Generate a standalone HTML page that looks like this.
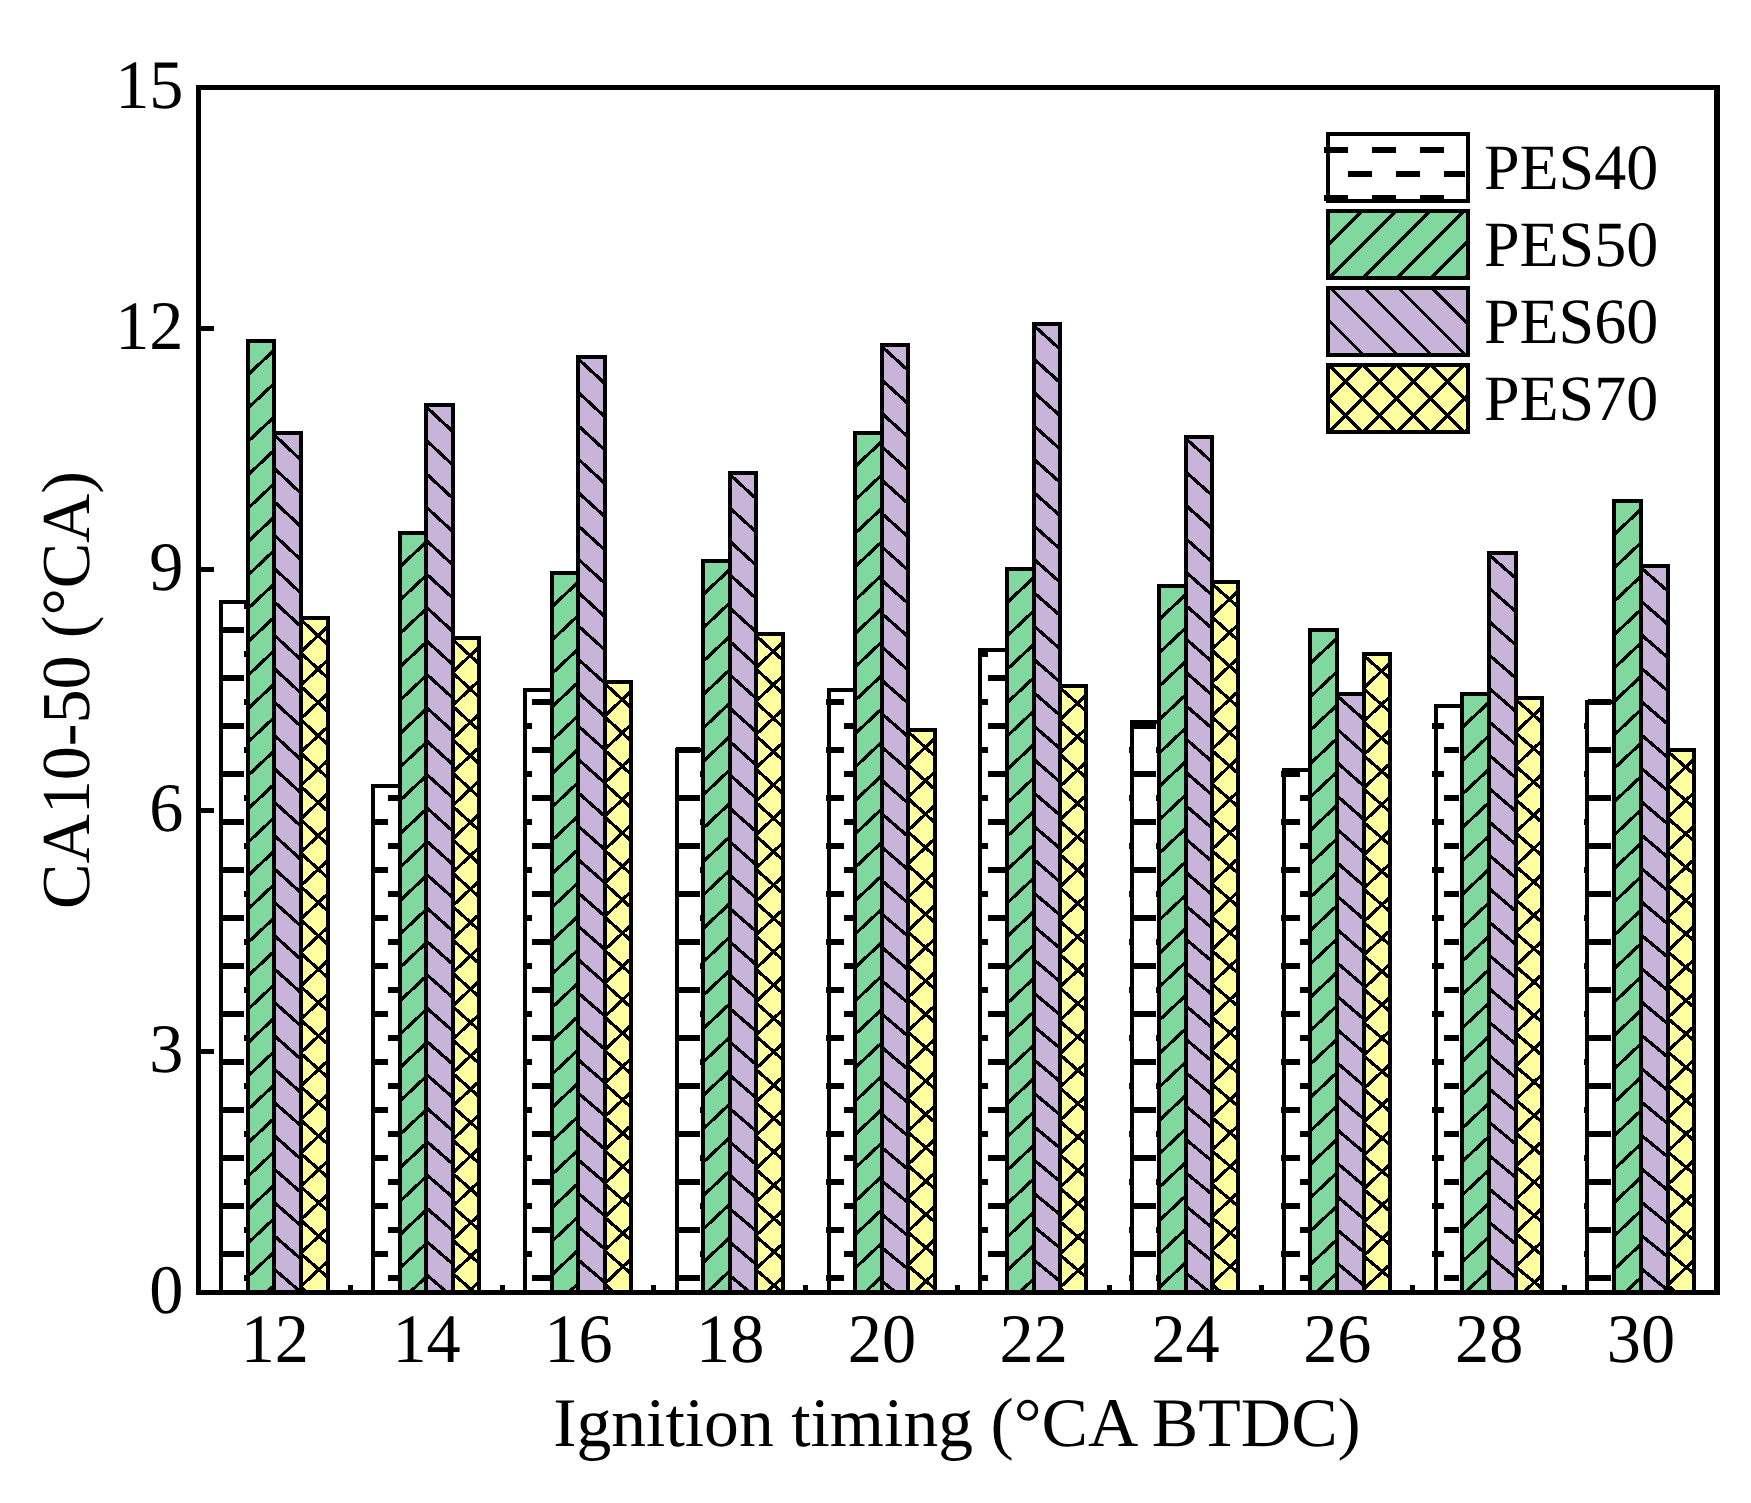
<!DOCTYPE html>
<html lang="en"><head><meta charset="utf-8"><title>CA10-50 vs ignition timing</title>
<style>html,body{margin:0;padding:0;background:#fff}body{width:1751px;height:1503px;overflow:hidden}svg{display:block}</style></head>
<body>
<svg width="1751" height="1503" viewBox="0 0 1751 1503" shape-rendering="crispEdges">
<rect width="1751" height="1503" fill="#fff"/>
<g id="bars"><rect x="221" y="602" width="27" height="690.5" fill="#FFFFFF"/>
<rect x="220" y="1251" width="24" height="6"/>
<rect x="220" y="1203" width="24" height="6"/>
<rect x="220" y="1155" width="24" height="6"/>
<rect x="220" y="1107" width="24" height="6"/>
<rect x="220" y="1059" width="24" height="6"/>
<rect x="220" y="1011" width="24" height="6"/>
<rect x="220" y="963" width="24" height="6"/>
<rect x="220" y="915" width="24" height="6"/>
<rect x="220" y="867" width="24" height="6"/>
<rect x="220" y="819" width="24" height="6"/>
<rect x="220" y="771" width="24" height="6"/>
<rect x="220" y="723" width="24" height="6"/>
<rect x="220" y="675" width="24" height="6"/>
<rect x="220" y="627" width="24" height="6"/>
<rect x="219" y="1275" width="1" height="6"/>
<rect x="244" y="1275" width="3.6" height="6"/>
<rect x="219" y="1227" width="1" height="6"/>
<rect x="244" y="1227" width="3.6" height="6"/>
<rect x="219" y="1179" width="1" height="6"/>
<rect x="244" y="1179" width="3.6" height="6"/>
<rect x="219" y="1131" width="1" height="6"/>
<rect x="244" y="1131" width="3.6" height="6"/>
<rect x="219" y="1083" width="1" height="6"/>
<rect x="244" y="1083" width="3.6" height="6"/>
<rect x="219" y="1035" width="1" height="6"/>
<rect x="244" y="1035" width="3.6" height="6"/>
<rect x="219" y="987" width="1" height="6"/>
<rect x="244" y="987" width="3.6" height="6"/>
<rect x="219" y="939" width="1" height="6"/>
<rect x="244" y="939" width="3.6" height="6"/>
<rect x="219" y="891" width="1" height="6"/>
<rect x="244" y="891" width="3.6" height="6"/>
<rect x="219" y="843" width="1" height="6"/>
<rect x="244" y="843" width="3.6" height="6"/>
<rect x="219" y="795" width="1" height="6"/>
<rect x="244" y="795" width="3.6" height="6"/>
<rect x="219" y="747" width="1" height="6"/>
<rect x="244" y="747" width="3.6" height="6"/>
<rect x="219" y="699" width="1" height="6"/>
<rect x="244" y="699" width="3.6" height="6"/>
<rect x="219" y="651" width="1" height="6"/>
<rect x="244" y="651" width="3.6" height="6"/>
<rect x="219" y="603" width="1" height="6"/>
<rect x="244" y="603" width="3.6" height="6"/>
<rect x="221" y="602" width="27" height="690.5" fill="none" stroke="#000" stroke-width="4"/>
<rect x="373" y="786" width="27" height="506.5" fill="#FFFFFF"/>
<rect x="371" y="1251" width="17" height="6"/>
<rect x="371" y="1203" width="17" height="6"/>
<rect x="371" y="1155" width="17" height="6"/>
<rect x="371" y="1107" width="17" height="6"/>
<rect x="371" y="1059" width="17" height="6"/>
<rect x="371" y="1011" width="17" height="6"/>
<rect x="371" y="963" width="17" height="6"/>
<rect x="371" y="915" width="17" height="6"/>
<rect x="371" y="867" width="17" height="6"/>
<rect x="371" y="819" width="17" height="6"/>
<rect x="388" y="1275" width="11.6" height="6"/>
<rect x="388" y="1227" width="11.6" height="6"/>
<rect x="388" y="1179" width="11.6" height="6"/>
<rect x="388" y="1131" width="11.6" height="6"/>
<rect x="388" y="1083" width="11.6" height="6"/>
<rect x="388" y="1035" width="11.6" height="6"/>
<rect x="388" y="987" width="11.6" height="6"/>
<rect x="388" y="939" width="11.6" height="6"/>
<rect x="388" y="891" width="11.6" height="6"/>
<rect x="388" y="843" width="11.6" height="6"/>
<rect x="388" y="795" width="11.6" height="6"/>
<rect x="373" y="786" width="27" height="506.5" fill="none" stroke="#000" stroke-width="4"/>
<rect x="525" y="690" width="27" height="602.5" fill="#FFFFFF"/>
<rect x="523" y="1251" width="9" height="6"/>
<rect x="523" y="1203" width="9" height="6"/>
<rect x="523" y="1155" width="9" height="6"/>
<rect x="523" y="1107" width="9" height="6"/>
<rect x="523" y="1059" width="9" height="6"/>
<rect x="523" y="1011" width="9" height="6"/>
<rect x="523" y="963" width="9" height="6"/>
<rect x="523" y="915" width="9" height="6"/>
<rect x="523" y="867" width="9" height="6"/>
<rect x="523" y="819" width="9" height="6"/>
<rect x="523" y="771" width="9" height="6"/>
<rect x="523" y="723" width="9" height="6"/>
<rect x="532" y="1275" width="19.6" height="6"/>
<rect x="532" y="1227" width="19.6" height="6"/>
<rect x="532" y="1179" width="19.6" height="6"/>
<rect x="532" y="1131" width="19.6" height="6"/>
<rect x="532" y="1083" width="19.6" height="6"/>
<rect x="532" y="1035" width="19.6" height="6"/>
<rect x="532" y="987" width="19.6" height="6"/>
<rect x="532" y="939" width="19.6" height="6"/>
<rect x="532" y="891" width="19.6" height="6"/>
<rect x="532" y="843" width="19.6" height="6"/>
<rect x="532" y="795" width="19.6" height="6"/>
<rect x="532" y="747" width="19.6" height="6"/>
<rect x="532" y="699" width="19.6" height="6"/>
<rect x="525" y="690" width="27" height="602.5" fill="none" stroke="#000" stroke-width="4"/>
<rect x="677" y="750" width="26" height="542.5" fill="#FFFFFF"/>
<rect x="675" y="1251" width="1" height="6"/>
<rect x="700" y="1251" width="3.6" height="6"/>
<rect x="675" y="1203" width="1" height="6"/>
<rect x="700" y="1203" width="3.6" height="6"/>
<rect x="675" y="1155" width="1" height="6"/>
<rect x="700" y="1155" width="3.6" height="6"/>
<rect x="675" y="1107" width="1" height="6"/>
<rect x="700" y="1107" width="3.6" height="6"/>
<rect x="675" y="1059" width="1" height="6"/>
<rect x="700" y="1059" width="3.6" height="6"/>
<rect x="675" y="1011" width="1" height="6"/>
<rect x="700" y="1011" width="3.6" height="6"/>
<rect x="675" y="963" width="1" height="6"/>
<rect x="700" y="963" width="3.6" height="6"/>
<rect x="675" y="915" width="1" height="6"/>
<rect x="700" y="915" width="3.6" height="6"/>
<rect x="675" y="867" width="1" height="6"/>
<rect x="700" y="867" width="3.6" height="6"/>
<rect x="675" y="819" width="1" height="6"/>
<rect x="700" y="819" width="3.6" height="6"/>
<rect x="675" y="771" width="1" height="6"/>
<rect x="700" y="771" width="3.6" height="6"/>
<rect x="676" y="1275" width="24" height="6"/>
<rect x="676" y="1227" width="24" height="6"/>
<rect x="676" y="1179" width="24" height="6"/>
<rect x="676" y="1131" width="24" height="6"/>
<rect x="676" y="1083" width="24" height="6"/>
<rect x="676" y="1035" width="24" height="6"/>
<rect x="676" y="987" width="24" height="6"/>
<rect x="676" y="939" width="24" height="6"/>
<rect x="676" y="891" width="24" height="6"/>
<rect x="676" y="843" width="24" height="6"/>
<rect x="676" y="795" width="24" height="6"/>
<rect x="676" y="747" width="24" height="6"/>
<rect x="677" y="750" width="26" height="542.5" fill="none" stroke="#000" stroke-width="4"/>
<rect x="829" y="690" width="26" height="602.5" fill="#FFFFFF"/>
<rect x="844" y="1251" width="11" height="6"/>
<rect x="844" y="1203" width="11" height="6"/>
<rect x="844" y="1155" width="11" height="6"/>
<rect x="844" y="1107" width="11" height="6"/>
<rect x="844" y="1059" width="11" height="6"/>
<rect x="844" y="1011" width="11" height="6"/>
<rect x="844" y="963" width="11" height="6"/>
<rect x="844" y="915" width="11" height="6"/>
<rect x="844" y="867" width="11" height="6"/>
<rect x="844" y="819" width="11" height="6"/>
<rect x="844" y="771" width="11" height="6"/>
<rect x="844" y="723" width="11" height="6"/>
<rect x="826" y="1275" width="18" height="6"/>
<rect x="826" y="1227" width="18" height="6"/>
<rect x="826" y="1179" width="18" height="6"/>
<rect x="826" y="1131" width="18" height="6"/>
<rect x="826" y="1083" width="18" height="6"/>
<rect x="826" y="1035" width="18" height="6"/>
<rect x="826" y="987" width="18" height="6"/>
<rect x="826" y="939" width="18" height="6"/>
<rect x="826" y="891" width="18" height="6"/>
<rect x="826" y="843" width="18" height="6"/>
<rect x="826" y="795" width="18" height="6"/>
<rect x="826" y="747" width="18" height="6"/>
<rect x="826" y="699" width="18" height="6"/>
<rect x="829" y="690" width="26" height="602.5" fill="none" stroke="#000" stroke-width="4"/>
<rect x="980" y="650" width="27" height="642.5" fill="#FFFFFF"/>
<rect x="988" y="1251" width="18.6" height="6"/>
<rect x="988" y="1203" width="18.6" height="6"/>
<rect x="988" y="1155" width="18.6" height="6"/>
<rect x="988" y="1107" width="18.6" height="6"/>
<rect x="988" y="1059" width="18.6" height="6"/>
<rect x="988" y="1011" width="18.6" height="6"/>
<rect x="988" y="963" width="18.6" height="6"/>
<rect x="988" y="915" width="18.6" height="6"/>
<rect x="988" y="867" width="18.6" height="6"/>
<rect x="988" y="819" width="18.6" height="6"/>
<rect x="988" y="771" width="18.6" height="6"/>
<rect x="988" y="723" width="18.6" height="6"/>
<rect x="988" y="675" width="18.6" height="6"/>
<rect x="978" y="1275" width="10" height="6"/>
<rect x="978" y="1227" width="10" height="6"/>
<rect x="978" y="1179" width="10" height="6"/>
<rect x="978" y="1131" width="10" height="6"/>
<rect x="978" y="1083" width="10" height="6"/>
<rect x="978" y="1035" width="10" height="6"/>
<rect x="978" y="987" width="10" height="6"/>
<rect x="978" y="939" width="10" height="6"/>
<rect x="978" y="891" width="10" height="6"/>
<rect x="978" y="843" width="10" height="6"/>
<rect x="978" y="795" width="10" height="6"/>
<rect x="978" y="747" width="10" height="6"/>
<rect x="978" y="699" width="10" height="6"/>
<rect x="978" y="651" width="10" height="6"/>
<rect x="980" y="650" width="27" height="642.5" fill="none" stroke="#000" stroke-width="4"/>
<rect x="1132" y="722" width="27" height="570.5" fill="#FFFFFF"/>
<rect x="1132" y="1251" width="24" height="6"/>
<rect x="1132" y="1203" width="24" height="6"/>
<rect x="1132" y="1155" width="24" height="6"/>
<rect x="1132" y="1107" width="24" height="6"/>
<rect x="1132" y="1059" width="24" height="6"/>
<rect x="1132" y="1011" width="24" height="6"/>
<rect x="1132" y="963" width="24" height="6"/>
<rect x="1132" y="915" width="24" height="6"/>
<rect x="1132" y="867" width="24" height="6"/>
<rect x="1132" y="819" width="24" height="6"/>
<rect x="1132" y="771" width="24" height="6"/>
<rect x="1132" y="723" width="24" height="6"/>
<rect x="1129" y="1275" width="3" height="6"/>
<rect x="1156" y="1275" width="2" height="6"/>
<rect x="1129" y="1227" width="3" height="6"/>
<rect x="1156" y="1227" width="2" height="6"/>
<rect x="1129" y="1179" width="3" height="6"/>
<rect x="1156" y="1179" width="2" height="6"/>
<rect x="1129" y="1131" width="3" height="6"/>
<rect x="1156" y="1131" width="2" height="6"/>
<rect x="1129" y="1083" width="3" height="6"/>
<rect x="1156" y="1083" width="2" height="6"/>
<rect x="1129" y="1035" width="3" height="6"/>
<rect x="1156" y="1035" width="2" height="6"/>
<rect x="1129" y="987" width="3" height="6"/>
<rect x="1156" y="987" width="2" height="6"/>
<rect x="1129" y="939" width="3" height="6"/>
<rect x="1156" y="939" width="2" height="6"/>
<rect x="1129" y="891" width="3" height="6"/>
<rect x="1156" y="891" width="2" height="6"/>
<rect x="1129" y="843" width="3" height="6"/>
<rect x="1156" y="843" width="2" height="6"/>
<rect x="1129" y="795" width="3" height="6"/>
<rect x="1156" y="795" width="2" height="6"/>
<rect x="1129" y="747" width="3" height="6"/>
<rect x="1156" y="747" width="2" height="6"/>
<rect x="1132" y="722" width="27" height="570.5" fill="none" stroke="#000" stroke-width="4"/>
<rect x="1284" y="770" width="26" height="522.5" fill="#FFFFFF"/>
<rect x="1281" y="1251" width="19" height="6"/>
<rect x="1281" y="1203" width="19" height="6"/>
<rect x="1281" y="1155" width="19" height="6"/>
<rect x="1281" y="1107" width="19" height="6"/>
<rect x="1281" y="1059" width="19" height="6"/>
<rect x="1281" y="1011" width="19" height="6"/>
<rect x="1281" y="963" width="19" height="6"/>
<rect x="1281" y="915" width="19" height="6"/>
<rect x="1281" y="867" width="19" height="6"/>
<rect x="1281" y="819" width="19" height="6"/>
<rect x="1281" y="771" width="19" height="6"/>
<rect x="1300" y="1275" width="8" height="6"/>
<rect x="1300" y="1227" width="8" height="6"/>
<rect x="1300" y="1179" width="8" height="6"/>
<rect x="1300" y="1131" width="8" height="6"/>
<rect x="1300" y="1083" width="8" height="6"/>
<rect x="1300" y="1035" width="8" height="6"/>
<rect x="1300" y="987" width="8" height="6"/>
<rect x="1300" y="939" width="8" height="6"/>
<rect x="1300" y="891" width="8" height="6"/>
<rect x="1300" y="843" width="8" height="6"/>
<rect x="1300" y="795" width="8" height="6"/>
<rect x="1284" y="770" width="26" height="522.5" fill="none" stroke="#000" stroke-width="4"/>
<rect x="1436" y="706" width="26" height="586.5" fill="#FFFFFF"/>
<rect x="1432" y="1251" width="12" height="6"/>
<rect x="1432" y="1203" width="12" height="6"/>
<rect x="1432" y="1155" width="12" height="6"/>
<rect x="1432" y="1107" width="12" height="6"/>
<rect x="1432" y="1059" width="12" height="6"/>
<rect x="1432" y="1011" width="12" height="6"/>
<rect x="1432" y="963" width="12" height="6"/>
<rect x="1432" y="915" width="12" height="6"/>
<rect x="1432" y="867" width="12" height="6"/>
<rect x="1432" y="819" width="12" height="6"/>
<rect x="1432" y="771" width="12" height="6"/>
<rect x="1432" y="723" width="12" height="6"/>
<rect x="1444" y="1275" width="15" height="6"/>
<rect x="1444" y="1227" width="15" height="6"/>
<rect x="1444" y="1179" width="15" height="6"/>
<rect x="1444" y="1131" width="15" height="6"/>
<rect x="1444" y="1083" width="15" height="6"/>
<rect x="1444" y="1035" width="15" height="6"/>
<rect x="1444" y="987" width="15" height="6"/>
<rect x="1444" y="939" width="15" height="6"/>
<rect x="1444" y="891" width="15" height="6"/>
<rect x="1444" y="843" width="15" height="6"/>
<rect x="1444" y="795" width="15" height="6"/>
<rect x="1444" y="747" width="15" height="6"/>
<rect x="1436" y="706" width="26" height="586.5" fill="none" stroke="#000" stroke-width="4"/>
<rect x="1587" y="702" width="27" height="590.5" fill="#FFFFFF"/>
<rect x="1584" y="1251" width="4" height="6"/>
<rect x="1584" y="1203" width="4" height="6"/>
<rect x="1584" y="1155" width="4" height="6"/>
<rect x="1584" y="1107" width="4" height="6"/>
<rect x="1584" y="1059" width="4" height="6"/>
<rect x="1584" y="1011" width="4" height="6"/>
<rect x="1584" y="963" width="4" height="6"/>
<rect x="1584" y="915" width="4" height="6"/>
<rect x="1584" y="867" width="4" height="6"/>
<rect x="1584" y="819" width="4" height="6"/>
<rect x="1584" y="771" width="4" height="6"/>
<rect x="1584" y="723" width="4" height="6"/>
<rect x="1588" y="1275" width="23" height="6"/>
<rect x="1588" y="1227" width="23" height="6"/>
<rect x="1588" y="1179" width="23" height="6"/>
<rect x="1588" y="1131" width="23" height="6"/>
<rect x="1588" y="1083" width="23" height="6"/>
<rect x="1588" y="1035" width="23" height="6"/>
<rect x="1588" y="987" width="23" height="6"/>
<rect x="1588" y="939" width="23" height="6"/>
<rect x="1588" y="891" width="23" height="6"/>
<rect x="1588" y="843" width="23" height="6"/>
<rect x="1588" y="795" width="23" height="6"/>
<rect x="1588" y="747" width="23" height="6"/>
<rect x="1588" y="699" width="23" height="6"/>
<rect x="1587" y="702" width="27" height="590.5" fill="none" stroke="#000" stroke-width="4"/>
<rect x="248" y="341" width="26" height="951.5" fill="#80D89E"/>
<path d="M248 341.3L248.32 341M248 374.7L274 350.26M248 408.1L274 383.66M248 441.5L274 417.06M248 474.9L274 450.46M248 508.3L274 483.86M248 541.7L274 517.26M248 575.1L274 550.66M248 608.5L274 584.06M248 641.9L274 617.46M248 675.3L274 650.86M248 708.7L274 684.26M248 742.1L274 717.66M248 775.5L274 751.06M248 808.9L274 784.46M248 842.3L274 817.86M248 875.7L274 851.26M248 909.1L274 884.66M248 942.5L274 918.06M248 975.9L274 951.46M248 1009.3L274 984.86M248 1042.7L274 1018.26M248 1076.1L274 1051.66M248 1109.5L274 1085.06M248 1142.9L274 1118.46M248 1176.3L274 1151.86M248 1209.7L274 1185.26M248 1243.1L274 1218.66M248 1276.5L274 1252.06M266.51 1292.5L274 1285.46" stroke="#000" stroke-width="3.3" fill="none" stroke-linecap="butt"/>
<rect x="248" y="341" width="26" height="951.5" fill="none" stroke="#000" stroke-width="4"/>
<rect x="400" y="533" width="26" height="759.5" fill="#80D89E"/>
<path d="M400 533.3L400.32 533M400 566.7L426 542.26M400 600.1L426 575.66M400 633.5L426 609.06M400 666.9L426 642.46M400 700.3L426 675.86M400 733.7L426 709.26M400 767.1L426 742.66M400 800.5L426 776.06M400 833.9L426 809.46M400 867.3L426 842.86M400 900.7L426 876.26M400 934.1L426 909.66M400 967.5L426 943.06M400 1000.9L426 976.46M400 1034.3L426 1009.86M400 1067.7L426 1043.26M400 1101.1L426 1076.66M400 1134.5L426 1110.06M400 1167.9L426 1143.46M400 1201.3L426 1176.86M400 1234.7L426 1210.26M400 1268.1L426 1243.66M409.57 1292.5L426 1277.06" stroke="#000" stroke-width="3.3" fill="none" stroke-linecap="butt"/>
<rect x="400" y="533" width="26" height="759.5" fill="none" stroke="#000" stroke-width="4"/>
<rect x="552" y="573" width="26" height="719.5" fill="#80D89E"/>
<path d="M552 573.3L552.32 573M552 606.7L578 582.26M552 640.1L578 615.66M552 673.5L578 649.06M552 706.9L578 682.46M552 740.3L578 715.86M552 773.7L578 749.26M552 807.1L578 782.66M552 840.5L578 816.06M552 873.9L578 849.46M552 907.3L578 882.86M552 940.7L578 916.26M552 974.1L578 949.66M552 1007.5L578 983.06M552 1040.9L578 1016.46M552 1074.3L578 1049.86M552 1107.7L578 1083.26M552 1141.1L578 1116.66M552 1174.5L578 1150.06M552 1207.9L578 1183.46M552 1241.3L578 1216.86M552 1274.7L578 1250.26M568.6 1292.5L578 1283.66" stroke="#000" stroke-width="3.3" fill="none" stroke-linecap="butt"/>
<rect x="552" y="573" width="26" height="719.5" fill="none" stroke="#000" stroke-width="4"/>
<rect x="703" y="561" width="27" height="731.5" fill="#80D89E"/>
<path d="M703 561.3L703.32 561M703 594.7L730 569.32M703 628.1L730 602.72M703 661.5L730 636.12M703 694.9L730 669.52M703 728.3L730 702.92M703 761.7L730 736.32M703 795.1L730 769.72M703 828.5L730 803.12M703 861.9L730 836.52M703 895.3L730 869.92M703 928.7L730 903.32M703 962.1L730 936.72M703 995.5L730 970.12M703 1028.9L730 1003.52M703 1062.3L730 1036.92M703 1095.7L730 1070.32M703 1129.1L730 1103.72M703 1162.5L730 1137.12M703 1195.9L730 1170.52M703 1229.3L730 1203.92M703 1262.7L730 1237.32M706.83 1292.5L730 1270.72" stroke="#000" stroke-width="3.3" fill="none" stroke-linecap="butt"/>
<rect x="703" y="561" width="27" height="731.5" fill="none" stroke="#000" stroke-width="4"/>
<rect x="855" y="433" width="27" height="859.5" fill="#80D89E"/>
<path d="M855 433.3L855.32 433M855 466.7L882 441.32M855 500.1L882 474.72M855 533.5L882 508.12M855 566.9L882 541.52M855 600.3L882 574.92M855 633.7L882 608.32M855 667.1L882 641.72M855 700.5L882 675.12M855 733.9L882 708.52M855 767.3L882 741.92M855 800.7L882 775.32M855 834.1L882 808.72M855 867.5L882 842.12M855 900.9L882 875.52M855 934.3L882 908.92M855 967.7L882 942.32M855 1001.1L882 975.72M855 1034.5L882 1009.12M855 1067.9L882 1042.52M855 1101.3L882 1075.92M855 1134.7L882 1109.32M855 1168.1L882 1142.72M855 1201.5L882 1176.12M855 1234.9L882 1209.52M855 1268.3L882 1242.92M864.79 1292.5L882 1276.32" stroke="#000" stroke-width="3.3" fill="none" stroke-linecap="butt"/>
<rect x="855" y="433" width="27" height="859.5" fill="none" stroke="#000" stroke-width="4"/>
<rect x="1007" y="569" width="27" height="723.5" fill="#80D89E"/>
<path d="M1007 569.3L1007.32 569M1007 602.7L1034 577.32M1007 636.1L1034 610.72M1007 669.5L1034 644.12M1007 702.9L1034 677.52M1007 736.3L1034 710.92M1007 769.7L1034 744.32M1007 803.1L1034 777.72M1007 836.5L1034 811.12M1007 869.9L1034 844.52M1007 903.3L1034 877.92M1007 936.7L1034 911.32M1007 970.1L1034 944.72M1007 1003.5L1034 978.12M1007 1036.9L1034 1011.52M1007 1070.3L1034 1044.92M1007 1103.7L1034 1078.32M1007 1137.1L1034 1111.72M1007 1170.5L1034 1145.12M1007 1203.9L1034 1178.52M1007 1237.3L1034 1211.92M1007 1270.7L1034 1245.32M1019.34 1292.5L1034 1278.72" stroke="#000" stroke-width="3.3" fill="none" stroke-linecap="butt"/>
<rect x="1007" y="569" width="27" height="723.5" fill="none" stroke="#000" stroke-width="4"/>
<rect x="1159" y="586" width="27" height="706.5" fill="#80D89E"/>
<path d="M1159 586.3L1159.32 586M1159 619.7L1186 594.32M1159 653.1L1186 627.72M1159 686.5L1186 661.12M1159 719.9L1186 694.52M1159 753.3L1186 727.92M1159 786.7L1186 761.32M1159 820.1L1186 794.72M1159 853.5L1186 828.12M1159 886.9L1186 861.52M1159 920.3L1186 894.92M1159 953.7L1186 928.32M1159 987.1L1186 961.72M1159 1020.5L1186 995.12M1159 1053.9L1186 1028.52M1159 1087.3L1186 1061.92M1159 1120.7L1186 1095.32M1159 1154.1L1186 1128.72M1159 1187.5L1186 1162.12M1159 1220.9L1186 1195.52M1159 1254.3L1186 1228.92M1159 1287.7L1186 1262.32" stroke="#000" stroke-width="3.3" fill="none" stroke-linecap="butt"/>
<rect x="1159" y="586" width="27" height="706.5" fill="none" stroke="#000" stroke-width="4"/>
<rect x="1310" y="630" width="27" height="662.5" fill="#80D89E"/>
<path d="M1310 630.3L1310.32 630M1310 663.7L1337 638.32M1310 697.1L1337 671.72M1310 730.5L1337 705.12M1310 763.9L1337 738.52M1310 797.3L1337 771.92M1310 830.7L1337 805.32M1310 864.1L1337 838.72M1310 897.5L1337 872.12M1310 930.9L1337 905.52M1310 964.3L1337 938.92M1310 997.7L1337 972.32M1310 1031.1L1337 1005.72M1310 1064.5L1337 1039.12M1310 1097.9L1337 1072.52M1310 1131.3L1337 1105.92M1310 1164.7L1337 1139.32M1310 1198.1L1337 1172.72M1310 1231.5L1337 1206.12M1310 1264.9L1337 1239.52M1316.17 1292.5L1337 1272.92" stroke="#000" stroke-width="3.3" fill="none" stroke-linecap="butt"/>
<rect x="1310" y="630" width="27" height="662.5" fill="none" stroke="#000" stroke-width="4"/>
<rect x="1462" y="694" width="27" height="598.5" fill="#80D89E"/>
<path d="M1462 694.3L1462.32 694M1462 727.7L1489 702.32M1462 761.1L1489 735.72M1462 794.5L1489 769.12M1462 827.9L1489 802.52M1462 861.3L1489 835.92M1462 894.7L1489 869.32M1462 928.1L1489 902.72M1462 961.5L1489 936.12M1462 994.9L1489 969.52M1462 1028.3L1489 1002.92M1462 1061.7L1489 1036.32M1462 1095.1L1489 1069.72M1462 1128.5L1489 1103.12M1462 1161.9L1489 1136.52M1462 1195.3L1489 1169.92M1462 1228.7L1489 1203.32M1462 1262.1L1489 1236.72M1465.19 1292.5L1489 1270.12" stroke="#000" stroke-width="3.3" fill="none" stroke-linecap="butt"/>
<rect x="1462" y="694" width="27" height="598.5" fill="none" stroke="#000" stroke-width="4"/>
<rect x="1614" y="501" width="27" height="791.5" fill="#80D89E"/>
<path d="M1614 501.3L1614.32 501M1614 534.7L1641 509.32M1614 568.1L1641 542.72M1614 601.5L1641 576.12M1614 634.9L1641 609.52M1614 668.3L1641 642.92M1614 701.7L1641 676.32M1614 735.1L1641 709.72M1614 768.5L1641 743.12M1614 801.9L1641 776.52M1614 835.3L1641 809.92M1614 868.7L1641 843.32M1614 902.1L1641 876.72M1614 935.5L1641 910.12M1614 968.9L1641 943.52M1614 1002.3L1641 976.92M1614 1035.7L1641 1010.32M1614 1069.1L1641 1043.72M1614 1102.5L1641 1077.12M1614 1135.9L1641 1110.52M1614 1169.3L1641 1143.92M1614 1202.7L1641 1177.32M1614 1236.1L1641 1210.72M1614 1269.5L1641 1244.12M1625.06 1292.5L1641 1277.52" stroke="#000" stroke-width="3.3" fill="none" stroke-linecap="butt"/>
<rect x="1614" y="501" width="27" height="791.5" fill="none" stroke="#000" stroke-width="4"/>
<rect x="274" y="433" width="27" height="859.5" fill="#C8B4D8"/>
<path d="M274 434.7L301 460.08M274 468.07L301 493.37M274 501.44L301 526.66M274 534.81L301 559.95M274 568.18L301 593.24M274 601.55L301 626.53M274 634.92L301 659.82M274 668.29L301 693.11M274 701.66L301 726.4M274 735.03L301 759.69M274 768.4L301 792.98M274 801.77L301 826.27M274 835.14L301 859.56M274 868.51L301 892.85M274 901.88L301 926.14M274 935.25L301 959.43M274 968.62L301 992.72M274 1001.99L301 1026.01M274 1035.36L301 1059.3M274 1068.73L301 1092.59M274 1102.1L301 1125.88M274 1135.47L301 1159.17M274 1168.84L301 1192.46M274 1202.21L301 1225.75M274 1235.58L301 1259.04M274 1268.95L301 1292.33" stroke="#000" stroke-width="3.3" fill="none" stroke-linecap="butt"/>
<rect x="274" y="433" width="27" height="859.5" fill="none" stroke="#000" stroke-width="4"/>
<rect x="426" y="405" width="27" height="887.5" fill="#C8B4D8"/>
<path d="M426 406.7L453 431.87M426 440.07L453 465.16M426 473.44L453 498.45M426 506.81L453 531.74M426 540.18L453 565.03M426 573.55L453 598.32M426 606.92L453 631.61M426 640.29L453 664.9M426 673.66L453 698.19M426 707.03L453 731.48M426 740.4L453 764.77M426 773.77L453 798.06M426 807.14L453 831.35M426 840.51L453 864.64M426 873.88L453 897.93M426 907.25L453 931.22M426 940.62L453 964.51M426 973.99L453 997.8M426 1007.36L453 1031.09M426 1040.73L453 1064.38M426 1074.1L453 1097.67M426 1107.47L453 1130.96M426 1140.84L453 1164.25M426 1174.21L453 1197.54M426 1207.58L453 1230.83M426 1240.95L453 1264.12M426 1274.32L447.26 1292.5" stroke="#000" stroke-width="3.3" fill="none" stroke-linecap="butt"/>
<rect x="426" y="405" width="27" height="887.5" fill="none" stroke="#000" stroke-width="4"/>
<rect x="578" y="357" width="27" height="935.5" fill="#C8B4D8"/>
<path d="M578 358.7L605 383.67M578 392.07L605 416.96M578 425.44L605 450.25M578 458.81L605 483.54M578 492.18L605 516.83M578 525.55L605 550.12M578 558.92L605 583.41M578 592.29L605 616.7M578 625.66L605 649.99M578 659.03L605 683.28M578 692.4L605 716.57M578 725.77L605 749.86M578 759.14L605 783.15M578 792.51L605 816.44M578 825.88L605 849.73M578 859.25L605 883.02M578 892.62L605 916.31M578 925.99L605 949.6M578 959.36L605 982.89M578 992.73L605 1016.18M578 1026.1L605 1049.47M578 1059.47L605 1082.76M578 1092.84L605 1116.05M578 1126.21L605 1149.34M578 1159.58L605 1182.63M578 1192.95L605 1215.92M578 1226.32L605 1249.21M578 1259.69L605 1282.5" stroke="#000" stroke-width="3.3" fill="none" stroke-linecap="butt"/>
<rect x="578" y="357" width="27" height="935.5" fill="none" stroke="#000" stroke-width="4"/>
<rect x="730" y="473" width="26" height="819.5" fill="#C8B4D8"/>
<path d="M730 474.7L756 498.54M730 508.07L756 531.83M730 541.44L756 565.12M730 574.81L756 598.41M730 608.18L756 631.7M730 641.55L756 664.99M730 674.92L756 698.28M730 708.29L756 731.57M730 741.66L756 764.86M730 775.03L756 798.15M730 808.4L756 831.44M730 841.77L756 864.73M730 875.14L756 898.02M730 908.51L756 931.31M730 941.88L756 964.6M730 975.25L756 997.89M730 1008.62L756 1031.18M730 1041.99L756 1064.47M730 1075.36L756 1097.76M730 1108.73L756 1131.05M730 1142.1L756 1164.34M730 1175.47L756 1197.63M730 1208.84L756 1230.92M730 1242.21L756 1264.21M730 1275.58L750.07 1292.5" stroke="#000" stroke-width="3.3" fill="none" stroke-linecap="butt"/>
<rect x="730" y="473" width="26" height="819.5" fill="none" stroke="#000" stroke-width="4"/>
<rect x="882" y="345" width="26" height="947.5" fill="#C8B4D8"/>
<path d="M882 346.7L908 370.35M882 380.07L908 403.64M882 413.44L908 436.93M882 446.81L908 470.22M882 480.18L908 503.51M882 513.55L908 536.8M882 546.92L908 570.09M882 580.29L908 603.38M882 613.66L908 636.67M882 647.03L908 669.96M882 680.4L908 703.25M882 713.77L908 736.54M882 747.14L908 769.83M882 780.51L908 803.12M882 813.88L908 836.41M882 847.25L908 869.7M882 880.62L908 902.99M882 913.99L908 936.28M882 947.36L908 969.57M882 980.73L908 1002.86M882 1014.1L908 1036.15M882 1047.47L908 1069.44M882 1080.84L908 1102.73M882 1114.21L908 1136.02M882 1147.58L908 1169.31M882 1180.95L908 1202.6M882 1214.32L908 1235.89M882 1247.69L908 1269.18M882 1281.06L895.89 1292.5" stroke="#000" stroke-width="3.3" fill="none" stroke-linecap="butt"/>
<rect x="882" y="345" width="26" height="947.5" fill="none" stroke="#000" stroke-width="4"/>
<rect x="1034" y="324" width="26" height="968.5" fill="#C8B4D8"/>
<path d="M1034 325.7L1060 349.15M1034 359.07L1060 382.44M1034 392.44L1060 415.73M1034 425.81L1060 449.02M1034 459.18L1060 482.31M1034 492.55L1060 515.6M1034 525.92L1060 548.89M1034 559.29L1060 582.18M1034 592.66L1060 615.47M1034 626.03L1060 648.76M1034 659.4L1060 682.05M1034 692.77L1060 715.34M1034 726.14L1060 748.63M1034 759.51L1060 781.92M1034 792.88L1060 815.21M1034 826.25L1060 848.5M1034 859.62L1060 881.79M1034 892.99L1060 915.08M1034 926.36L1060 948.37M1034 959.73L1060 981.66M1034 993.1L1060 1014.95M1034 1026.47L1060 1048.24M1034 1059.84L1060 1081.53M1034 1093.21L1060 1114.82M1034 1126.58L1060 1148.11M1034 1159.95L1060 1181.4M1034 1193.32L1060 1214.69M1034 1226.69L1060 1247.98M1034 1260.06L1060 1281.27" stroke="#000" stroke-width="3.3" fill="none" stroke-linecap="butt"/>
<rect x="1034" y="324" width="26" height="968.5" fill="none" stroke="#000" stroke-width="4"/>
<rect x="1186" y="437" width="26" height="855.5" fill="#C8B4D8"/>
<path d="M1186 438.7L1212 461.95M1186 472.07L1212 495.24M1186 505.44L1212 528.53M1186 538.81L1212 561.82M1186 572.18L1212 595.11M1186 605.55L1212 628.4M1186 638.92L1212 661.69M1186 672.29L1212 694.98M1186 705.66L1212 728.27M1186 739.03L1212 761.56M1186 772.4L1212 794.85M1186 805.77L1212 828.14M1186 839.14L1212 861.43M1186 872.51L1212 894.72M1186 905.88L1212 928.01M1186 939.25L1212 961.3M1186 972.62L1212 994.59M1186 1005.99L1212 1027.88M1186 1039.36L1212 1061.17M1186 1072.73L1212 1094.46M1186 1106.1L1212 1127.75M1186 1139.47L1212 1161.04M1186 1172.84L1212 1194.33M1186 1206.21L1212 1227.62M1186 1239.58L1212 1260.91M1186 1272.95L1209.92 1292.5" stroke="#000" stroke-width="3.3" fill="none" stroke-linecap="butt"/>
<rect x="1186" y="437" width="26" height="855.5" fill="none" stroke="#000" stroke-width="4"/>
<rect x="1337" y="694" width="27" height="598.5" fill="#C8B4D8"/>
<path d="M1337 695.7L1364 719.64M1337 729.07L1364 752.93M1337 762.44L1364 786.22M1337 795.81L1364 819.51M1337 829.18L1364 852.8M1337 862.55L1364 886.09M1337 895.92L1364 919.38M1337 929.29L1364 952.67M1337 962.66L1364 985.96M1337 996.03L1364 1019.25M1337 1029.4L1364 1052.54M1337 1062.77L1364 1085.83M1337 1096.14L1364 1119.12M1337 1129.51L1364 1152.41M1337 1162.88L1364 1185.7M1337 1196.25L1364 1218.99M1337 1229.62L1364 1252.28M1337 1262.99L1364 1285.57" stroke="#000" stroke-width="3.3" fill="none" stroke-linecap="butt"/>
<rect x="1337" y="694" width="27" height="598.5" fill="none" stroke="#000" stroke-width="4"/>
<rect x="1489" y="553" width="27" height="739.5" fill="#C8B4D8"/>
<path d="M1489 554.7L1516 578.44M1489 588.07L1516 611.73M1489 621.44L1516 645.02M1489 654.81L1516 678.31M1489 688.18L1516 711.6M1489 721.55L1516 744.89M1489 754.92L1516 778.18M1489 788.29L1516 811.47M1489 821.66L1516 844.76M1489 855.03L1516 878.05M1489 888.4L1516 911.34M1489 921.77L1516 944.63M1489 955.14L1516 977.92M1489 988.51L1516 1011.21M1489 1021.88L1516 1044.5M1489 1055.25L1516 1077.79M1489 1088.62L1516 1111.08M1489 1121.99L1516 1144.37M1489 1155.36L1516 1177.66M1489 1188.73L1516 1210.95M1489 1222.1L1516 1244.24M1489 1255.47L1516 1277.53M1489 1288.84L1493.5 1292.5" stroke="#000" stroke-width="3.3" fill="none" stroke-linecap="butt"/>
<rect x="1489" y="553" width="27" height="739.5" fill="none" stroke="#000" stroke-width="4"/>
<rect x="1641" y="566" width="27" height="726.5" fill="#C8B4D8"/>
<path d="M1641 567.7L1668 591.23M1641 601.07L1668 624.52M1641 634.44L1668 657.81M1641 667.81L1668 691.1M1641 701.18L1668 724.39M1641 734.55L1668 757.68M1641 767.92L1668 790.97M1641 801.29L1668 824.26M1641 834.66L1668 857.55M1641 868.03L1668 890.84M1641 901.4L1668 924.13M1641 934.77L1668 957.42M1641 968.14L1668 990.71M1641 1001.51L1668 1024M1641 1034.88L1668 1057.29M1641 1068.25L1668 1090.58M1641 1101.62L1668 1123.87M1641 1134.99L1668 1157.16M1641 1168.36L1668 1190.45M1641 1201.73L1668 1223.74M1641 1235.1L1668 1257.03M1641 1268.47L1668 1290.32" stroke="#000" stroke-width="3.3" fill="none" stroke-linecap="butt"/>
<rect x="1641" y="566" width="27" height="726.5" fill="none" stroke="#000" stroke-width="4"/>
<rect x="301" y="618" width="27" height="674.5" fill="#FFFF9F"/>
<path d="M301 618.3L301.32 618M301 651.7L328 626.32M301 685.1L328 659.72M301 718.5L328 693.12M301 751.9L328 726.52M301 785.3L328 759.92M301 818.7L328 793.32M301 852.1L328 826.72M301 885.5L328 860.12M301 918.9L328 893.52M301 952.3L328 926.92M301 985.7L328 960.32M301 1019.1L328 993.72M301 1052.5L328 1027.12M301 1085.9L328 1060.52M301 1119.3L328 1093.92M301 1152.7L328 1127.32M301 1186.1L328 1160.72M301 1219.5L328 1194.12M301 1252.9L328 1227.52M301 1286.3L328 1260.92M301 619.7L328 645.04M301 653.07L328 678.33M301 686.44L328 711.62M301 719.81L328 744.91M301 753.18L328 778.2M301 786.55L328 811.49M301 819.92L328 844.78M301 853.29L328 878.07M301 886.66L328 911.36M301 920.03L328 944.65M301 953.4L328 977.94M301 986.77L328 1011.23M301 1020.14L328 1044.52M301 1053.51L328 1077.81M301 1086.88L328 1111.1M301 1120.25L328 1144.39M301 1153.62L328 1177.68M301 1186.99L328 1210.97M301 1220.36L328 1244.26M301 1253.73L328 1277.55M301 1287.1L307.14 1292.5" stroke="#000" stroke-width="3.3" fill="none" stroke-linecap="butt"/>
<rect x="301" y="618" width="27" height="674.5" fill="none" stroke="#000" stroke-width="4"/>
<rect x="453" y="638" width="26" height="654.5" fill="#FFFF9F"/>
<path d="M453 638.3L453.32 638M453 671.7L479 647.26M453 705.1L479 680.66M453 738.5L479 714.06M453 771.9L479 747.46M453 805.3L479 780.86M453 838.7L479 814.26M453 872.1L479 847.66M453 905.5L479 881.06M453 938.9L479 914.46M453 972.3L479 947.86M453 1005.7L479 981.26M453 1039.1L479 1014.66M453 1072.5L479 1048.06M453 1105.9L479 1081.46M453 1139.3L479 1114.86M453 1172.7L479 1148.26M453 1206.1L479 1181.66M453 1239.5L479 1215.06M453 1272.9L479 1248.46M467.68 1292.5L479 1281.86M453 639.7L479 663.9M453 673.07L479 697.19M453 706.44L479 730.48M453 739.81L479 763.77M453 773.18L479 797.06M453 806.55L479 830.35M453 839.92L479 863.64M453 873.29L479 896.93M453 906.66L479 930.22M453 940.03L479 963.51M453 973.4L479 996.8M453 1006.77L479 1030.09M453 1040.14L479 1063.38M453 1073.51L479 1096.67M453 1106.88L479 1129.96M453 1140.25L479 1163.25M453 1173.62L479 1196.54M453 1206.99L479 1229.83M453 1240.36L479 1263.12M453 1273.73L474.51 1292.5" stroke="#000" stroke-width="3.3" fill="none" stroke-linecap="butt"/>
<rect x="453" y="638" width="26" height="654.5" fill="none" stroke="#000" stroke-width="4"/>
<rect x="605" y="682" width="26" height="610.5" fill="#FFFF9F"/>
<path d="M605 682.3L605.32 682M605 715.7L631 691.26M605 749.1L631 724.66M605 782.5L631 758.06M605 815.9L631 791.46M605 849.3L631 824.86M605 882.7L631 858.26M605 916.1L631 891.66M605 949.5L631 925.06M605 982.9L631 958.46M605 1016.3L631 991.86M605 1049.7L631 1025.26M605 1083.1L631 1058.66M605 1116.5L631 1092.06M605 1149.9L631 1125.46M605 1183.3L631 1158.86M605 1216.7L631 1192.26M605 1250.1L631 1225.66M605 1283.5L631 1259.06M630.96 1292.5L631 1292.46M605 683.7L631 707.71M605 717.07L631 741M605 750.44L631 774.29M605 783.81L631 807.58M605 817.18L631 840.87M605 850.55L631 874.16M605 883.92L631 907.45M605 917.29L631 940.74M605 950.66L631 974.03M605 984.03L631 1007.32M605 1017.4L631 1040.61M605 1050.77L631 1073.9M605 1084.14L631 1107.19M605 1117.51L631 1140.48M605 1150.88L631 1173.77M605 1184.25L631 1207.06M605 1217.62L631 1240.35M605 1250.99L631 1273.64M605 1284.36L614.38 1292.5" stroke="#000" stroke-width="3.3" fill="none" stroke-linecap="butt"/>
<rect x="605" y="682" width="26" height="610.5" fill="none" stroke="#000" stroke-width="4"/>
<rect x="756" y="634" width="27" height="658.5" fill="#FFFF9F"/>
<path d="M756 634.3L756.32 634M756 667.7L783 642.32M756 701.1L783 675.72M756 734.5L783 709.12M756 767.9L783 742.52M756 801.3L783 775.92M756 834.7L783 809.32M756 868.1L783 842.72M756 901.5L783 876.12M756 934.9L783 909.52M756 968.3L783 942.92M756 1001.7L783 976.32M756 1035.1L783 1009.72M756 1068.5L783 1043.12M756 1101.9L783 1076.52M756 1135.3L783 1109.92M756 1168.7L783 1143.32M756 1202.1L783 1176.72M756 1235.5L783 1210.12M756 1268.9L783 1243.52M766.43 1292.5L783 1276.92M756 635.7L783 660.43M756 669.07L783 693.72M756 702.44L783 727.01M756 735.81L783 760.3M756 769.18L783 793.59M756 802.55L783 826.88M756 835.92L783 860.17M756 869.29L783 893.46M756 902.66L783 926.75M756 936.03L783 960.04M756 969.4L783 993.33M756 1002.77L783 1026.62M756 1036.14L783 1059.91M756 1069.51L783 1093.2M756 1102.88L783 1126.49M756 1136.25L783 1159.78M756 1169.62L783 1193.07M756 1202.99L783 1226.36M756 1236.36L783 1259.65M756 1269.73L782.49 1292.5" stroke="#000" stroke-width="3.3" fill="none" stroke-linecap="butt"/>
<rect x="756" y="634" width="27" height="658.5" fill="none" stroke="#000" stroke-width="4"/>
<rect x="908" y="730" width="27" height="562.5" fill="#FFFF9F"/>
<path d="M908 730.3L908.32 730M908 763.7L935 738.32M908 797.1L935 771.72M908 830.5L935 805.12M908 863.9L935 838.52M908 897.3L935 871.92M908 930.7L935 905.32M908 964.1L935 938.72M908 997.5L935 972.12M908 1030.9L935 1005.52M908 1064.3L935 1038.92M908 1097.7L935 1072.32M908 1131.1L935 1105.72M908 1164.5L935 1139.12M908 1197.9L935 1172.52M908 1231.3L935 1205.92M908 1264.7L935 1239.32M913.96 1292.5L935 1272.72M908 731.7L935 756.22M908 765.07L935 789.51M908 798.44L935 822.8M908 831.81L935 856.09M908 865.18L935 889.38M908 898.55L935 922.67M908 931.92L935 955.96M908 965.29L935 989.25M908 998.66L935 1022.54M908 1032.03L935 1055.83M908 1065.4L935 1089.12M908 1098.77L935 1122.41M908 1132.14L935 1155.7M908 1165.51L935 1188.99M908 1198.88L935 1222.28M908 1232.25L935 1255.57M908 1265.62L935 1288.86" stroke="#000" stroke-width="3.3" fill="none" stroke-linecap="butt"/>
<rect x="908" y="730" width="27" height="562.5" fill="none" stroke="#000" stroke-width="4"/>
<rect x="1060" y="686" width="26" height="606.5" fill="#FFFF9F"/>
<path d="M1060 686.3L1060.32 686M1060 719.7L1086 695.26M1060 753.1L1086 728.66M1060 786.5L1086 762.06M1060 819.9L1086 795.46M1060 853.3L1086 828.86M1060 886.7L1086 862.26M1060 920.1L1086 895.66M1060 953.5L1086 929.06M1060 986.9L1086 962.46M1060 1020.3L1086 995.86M1060 1053.7L1086 1029.26M1060 1087.1L1086 1062.66M1060 1120.5L1086 1096.06M1060 1153.9L1086 1129.46M1060 1187.3L1086 1162.86M1060 1220.7L1086 1196.26M1060 1254.1L1086 1229.66M1060 1287.5L1086 1263.06M1060 687.7L1086 711.12M1060 721.07L1086 744.41M1060 754.44L1086 777.7M1060 787.81L1086 810.99M1060 821.18L1086 844.28M1060 854.55L1086 877.57M1060 887.92L1086 910.86M1060 921.29L1086 944.15M1060 954.66L1086 977.44M1060 988.03L1086 1010.73M1060 1021.4L1086 1044.02M1060 1054.77L1086 1077.31M1060 1088.14L1086 1110.6M1060 1121.51L1086 1143.89M1060 1154.88L1086 1177.18M1060 1188.25L1086 1210.47M1060 1221.62L1086 1243.76M1060 1254.99L1086 1277.05M1060 1288.36L1064.9 1292.5" stroke="#000" stroke-width="3.3" fill="none" stroke-linecap="butt"/>
<rect x="1060" y="686" width="26" height="606.5" fill="none" stroke="#000" stroke-width="4"/>
<rect x="1212" y="582" width="26" height="710.5" fill="#FFFF9F"/>
<path d="M1212 582.3L1212.32 582M1212 615.7L1238 591.26M1212 649.1L1238 624.66M1212 682.5L1238 658.06M1212 715.9L1238 691.46M1212 749.3L1238 724.86M1212 782.7L1238 758.26M1212 816.1L1238 791.66M1212 849.5L1238 825.06M1212 882.9L1238 858.46M1212 916.3L1238 891.86M1212 949.7L1238 925.26M1212 983.1L1238 958.66M1212 1016.5L1238 992.06M1212 1049.9L1238 1025.46M1212 1083.3L1238 1058.86M1212 1116.7L1238 1092.26M1212 1150.1L1238 1125.66M1212 1183.5L1238 1159.06M1212 1216.9L1238 1192.46M1212 1250.3L1238 1225.86M1212 1283.7L1238 1259.26M1212 583.7L1238 606.92M1212 617.07L1238 640.21M1212 650.44L1238 673.5M1212 683.81L1238 706.79M1212 717.18L1238 740.08M1212 750.55L1238 773.37M1212 783.92L1238 806.66M1212 817.29L1238 839.95M1212 850.66L1238 873.24M1212 884.03L1238 906.53M1212 917.4L1238 939.82M1212 950.77L1238 973.11M1212 984.14L1238 1006.4M1212 1017.51L1238 1039.69M1212 1050.88L1238 1072.98M1212 1084.25L1238 1106.27M1212 1117.62L1238 1139.56M1212 1150.99L1238 1172.85M1212 1184.36L1238 1206.14M1212 1217.73L1238 1239.43M1212 1251.1L1238 1272.72M1212 1284.47L1221.69 1292.5" stroke="#000" stroke-width="3.3" fill="none" stroke-linecap="butt"/>
<rect x="1212" y="582" width="26" height="710.5" fill="none" stroke="#000" stroke-width="4"/>
<rect x="1364" y="654" width="26" height="638.5" fill="#FFFF9F"/>
<path d="M1364 654.3L1364.32 654M1364 687.7L1390 663.26M1364 721.1L1390 696.66M1364 754.5L1390 730.06M1364 787.9L1390 763.46M1364 821.3L1390 796.86M1364 854.7L1390 830.26M1364 888.1L1390 863.66M1364 921.5L1390 897.06M1364 954.9L1390 930.46M1364 988.3L1390 963.86M1364 1021.7L1390 997.26M1364 1055.1L1390 1030.66M1364 1088.5L1390 1064.06M1364 1121.9L1390 1097.46M1364 1155.3L1390 1130.86M1364 1188.7L1390 1164.26M1364 1222.1L1390 1197.66M1364 1255.5L1390 1231.06M1364 1288.9L1390 1264.46M1364 655.7L1390 678.72M1364 689.07L1390 712.01M1364 722.44L1390 745.3M1364 755.81L1390 778.59M1364 789.18L1390 811.88M1364 822.55L1390 845.17M1364 855.92L1390 878.46M1364 889.29L1390 911.75M1364 922.66L1390 945.04M1364 956.03L1390 978.33M1364 989.4L1390 1011.62M1364 1022.77L1390 1044.91M1364 1056.14L1390 1078.2M1364 1089.51L1390 1111.49M1364 1122.88L1390 1144.78M1364 1156.25L1390 1178.07M1364 1189.62L1390 1211.36M1364 1222.99L1390 1244.65M1364 1256.36L1390 1277.94M1364 1289.73L1367.35 1292.5" stroke="#000" stroke-width="3.3" fill="none" stroke-linecap="butt"/>
<rect x="1364" y="654" width="26" height="638.5" fill="none" stroke="#000" stroke-width="4"/>
<rect x="1516" y="698" width="26" height="594.5" fill="#FFFF9F"/>
<path d="M1516 698.3L1516.32 698M1516 731.7L1542 707.26M1516 765.1L1542 740.66M1516 798.5L1542 774.06M1516 831.9L1542 807.46M1516 865.3L1542 840.86M1516 898.7L1542 874.26M1516 932.1L1542 907.66M1516 965.5L1542 941.06M1516 998.9L1542 974.46M1516 1032.3L1542 1007.86M1516 1065.7L1542 1041.26M1516 1099.1L1542 1074.66M1516 1132.5L1542 1108.06M1516 1165.9L1542 1141.46M1516 1199.3L1542 1174.86M1516 1232.7L1542 1208.26M1516 1266.1L1542 1241.66M1523.45 1292.5L1542 1275.06M1516 699.7L1542 722.52M1516 733.07L1542 755.81M1516 766.44L1542 789.1M1516 799.81L1542 822.39M1516 833.18L1542 855.68M1516 866.55L1542 888.97M1516 899.92L1542 922.26M1516 933.29L1542 955.55M1516 966.66L1542 988.84M1516 1000.03L1542 1022.13M1516 1033.4L1542 1055.42M1516 1066.77L1542 1088.71M1516 1100.14L1542 1122M1516 1133.51L1542 1155.29M1516 1166.88L1542 1188.58M1516 1200.25L1542 1221.87M1516 1233.62L1542 1255.16M1516 1266.99L1542 1288.45" stroke="#000" stroke-width="3.3" fill="none" stroke-linecap="butt"/>
<rect x="1516" y="698" width="26" height="594.5" fill="none" stroke="#000" stroke-width="4"/>
<rect x="1668" y="750" width="26" height="542.5" fill="#FFFF9F"/>
<path d="M1668 750.3L1668.32 750M1668 783.7L1694 759.26M1668 817.1L1694 792.66M1668 850.5L1694 826.06M1668 883.9L1694 859.46M1668 917.3L1694 892.86M1668 950.7L1694 926.26M1668 984.1L1694 959.66M1668 1017.5L1694 993.06M1668 1050.9L1694 1026.46M1668 1084.3L1694 1059.86M1668 1117.7L1694 1093.26M1668 1151.1L1694 1126.66M1668 1184.5L1694 1160.06M1668 1217.9L1694 1193.46M1668 1251.3L1694 1226.86M1668 1284.7L1694 1260.26M1668 751.7L1694 774.33M1668 785.07L1694 807.62M1668 818.44L1694 840.91M1668 851.81L1694 874.2M1668 885.18L1694 907.49M1668 918.55L1694 940.78M1668 951.92L1694 974.07M1668 985.29L1694 1007.36M1668 1018.66L1694 1040.65M1668 1052.03L1694 1073.94M1668 1085.4L1694 1107.23M1668 1118.77L1694 1140.52M1668 1152.14L1694 1173.81M1668 1185.51L1694 1207.1M1668 1218.88L1694 1240.39M1668 1252.25L1694 1273.68M1668 1285.62L1676.38 1292.5" stroke="#000" stroke-width="3.3" fill="none" stroke-linecap="butt"/>
<rect x="1668" y="750" width="26" height="542.5" fill="none" stroke="#000" stroke-width="4"/></g>
<g id="ticks"><rect x="198.5" y="1049" width="15.5" height="5"/><rect x="198.5" y="808" width="15.5" height="5"/><rect x="198.5" y="567" width="15.5" height="5"/><rect x="198.5" y="326" width="15.5" height="5"/><rect x="347.89" y="1285" width="5" height="7.5"/><rect x="499.69" y="1285" width="5" height="7.5"/><rect x="651.47" y="1285" width="5" height="7.5"/><rect x="803.26" y="1285" width="5" height="7.5"/><rect x="955.05" y="1285" width="5" height="7.5"/><rect x="1106.84" y="1285" width="5" height="7.5"/><rect x="1258.63" y="1285" width="5" height="7.5"/><rect x="1410.42" y="1285" width="5" height="7.5"/><rect x="1562.21" y="1285" width="5" height="7.5"/></g>
<g id="frame"><rect x="196" y="85" width="5" height="1210"/><rect x="196" y="85" width="1524" height="5"/><rect x="1714" y="85" width="6" height="1210"/><rect x="196" y="1290" width="1524" height="5"/></g>
<g id="legend"><rect x="1327.9" y="134" width="140.2" height="66.9" fill="#FFFFFF"/>
<rect x="1324" y="195" width="24" height="6"/>
<rect x="1372" y="195" width="24" height="6"/>
<rect x="1420" y="195" width="24" height="6"/>
<rect x="1324" y="147" width="24" height="6"/>
<rect x="1372" y="147" width="24" height="6"/>
<rect x="1420" y="147" width="24" height="6"/>
<rect x="1348" y="171" width="24" height="6"/>
<rect x="1396" y="171" width="24" height="6"/>
<rect x="1444" y="171" width="21" height="6"/>
<rect x="1327.9" y="134" width="140.2" height="66.9" fill="none" stroke="#000" stroke-width="4"/>
<rect x="1327.9" y="211" width="140.2" height="66.9" fill="#80D89E"/>
<path d="M1327.9 211.32L1328.22 211M1327.9 245.26L1362.16 211M1329.2 277.9L1396.1 211M1363.14 277.9L1430.04 211M1397.08 277.9L1463.98 211M1431.02 277.9L1468.1 240.82M1464.96 277.9L1468.1 274.76" stroke="#000" stroke-width="3.3" fill="none" stroke-linecap="butt"/>
<rect x="1327.9" y="211" width="140.2" height="66.9" fill="none" stroke="#000" stroke-width="4"/>
<rect x="1327.9" y="287.8" width="140.2" height="67" fill="#C8B4D8"/>
<path d="M1466.06 287.8L1468.1 289.84M1432.12 287.8L1468.1 323.78M1398.18 287.8L1465.18 354.8M1364.24 287.8L1431.24 354.8M1330.3 287.8L1397.3 354.8M1327.9 319.34L1363.36 354.8M1327.9 353.28L1329.42 354.8" stroke="#000" stroke-width="3.3" fill="none" stroke-linecap="butt"/>
<rect x="1327.9" y="287.8" width="140.2" height="67" fill="none" stroke="#000" stroke-width="4"/>
<rect x="1327.9" y="365" width="140.2" height="66.9" fill="#FFFF9F"/>
<path d="M1327.9 365.46L1328.36 365M1327.9 399.4L1362.3 365M1329.34 431.9L1396.24 365M1363.28 431.9L1430.18 365M1397.22 431.9L1464.12 365M1431.16 431.9L1468.1 394.96M1465.1 431.9L1468.1 428.9M1464.96 365L1468.1 368.14M1431.02 365L1468.1 402.08M1397.08 365L1463.98 431.9M1363.14 365L1430.04 431.9M1329.2 365L1396.1 431.9M1327.9 397.64L1362.16 431.9M1327.9 431.58L1328.22 431.9" stroke="#000" stroke-width="3.3" fill="none" stroke-linecap="butt"/>
<rect x="1327.9" y="365" width="140.2" height="66.9" fill="none" stroke="#000" stroke-width="4"/></g>
<g font-family="'Liberation Serif', serif" fill="#000" text-rendering="geometricPrecision">
<text transform="translate(183.5 1312.9) scale(1 1.018)" font-size="68.3" text-anchor="end">0</text>
<text transform="translate(183.5 1071.9) scale(1 1.018)" font-size="68.3" text-anchor="end">3</text>
<text transform="translate(183.5 830.9) scale(1 1.018)" font-size="68.3" text-anchor="end">6</text>
<text transform="translate(183.5 589.9) scale(1 1.018)" font-size="68.3" text-anchor="end">9</text>
<text transform="translate(183.5 348.9) scale(1 1.018)" font-size="68.3" text-anchor="end">12</text>
<text transform="translate(183.5 107.9) scale(1 1.018)" font-size="68.3" text-anchor="end">15</text>
<text transform="translate(274.8 1361.9) scale(1 1.018)" font-size="68.3" text-anchor="middle">12</text>
<text transform="translate(426.59 1361.9) scale(1 1.018)" font-size="68.3" text-anchor="middle">14</text>
<text transform="translate(578.38 1361.9) scale(1 1.018)" font-size="68.3" text-anchor="middle">16</text>
<text transform="translate(730.17 1361.9) scale(1 1.018)" font-size="68.3" text-anchor="middle">18</text>
<text transform="translate(881.96 1361.9) scale(1 1.018)" font-size="68.3" text-anchor="middle">20</text>
<text transform="translate(1033.75 1361.9) scale(1 1.018)" font-size="68.3" text-anchor="middle">22</text>
<text transform="translate(1185.54 1361.9) scale(1 1.018)" font-size="68.3" text-anchor="middle">24</text>
<text transform="translate(1337.33 1361.9) scale(1 1.018)" font-size="68.3" text-anchor="middle">26</text>
<text transform="translate(1489.12 1361.9) scale(1 1.018)" font-size="68.3" text-anchor="middle">28</text>
<text transform="translate(1640.91 1361.9) scale(1 1.018)" font-size="68.3" text-anchor="middle">30</text>
<text transform="translate(957 1446)" font-size="69.6" text-anchor="middle" textLength="807.6" lengthAdjust="spacingAndGlyphs">Ignition timing (°CA BTDC)</text>
<text transform="translate(89.2 690) rotate(-90) scale(1 1.005)" font-size="68.3" text-anchor="middle" textLength="438" lengthAdjust="spacingAndGlyphs">CA10-50 (°CA)</text>
<text transform="translate(1483.9 188.7) scale(1 1.01)" font-size="64">PES40</text>
<text transform="translate(1483.9 265.8) scale(1 1.01)" font-size="64">PES50</text>
<text transform="translate(1483.9 342.9) scale(1 1.01)" font-size="64">PES60</text>
<text transform="translate(1483.9 420) scale(1 1.01)" font-size="64">PES70</text>
</g>
</svg>
</body></html>
